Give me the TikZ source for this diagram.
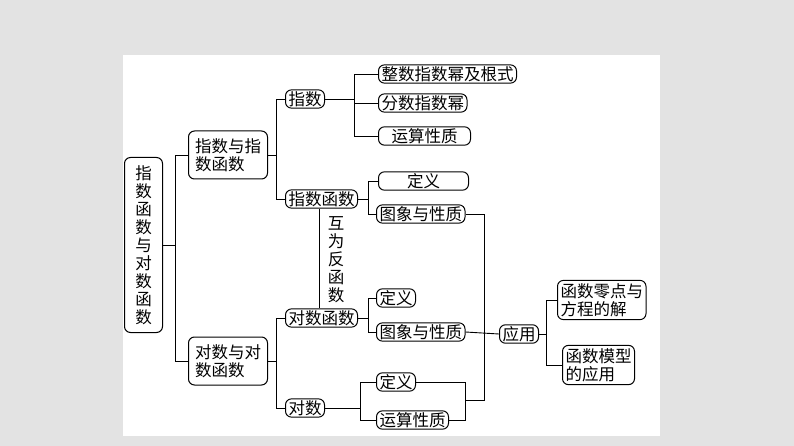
\documentclass[tikz,border=0pt]{standalone}
\usepackage{fontspec}
\setmainfont{Noto Sans CJK SC}
\begin{document}
\begin{tikzpicture}[x=1pt,y=-1pt,
 bx/.style={draw,line width=1pt,rounded corners=6pt,inner xsep=3pt,inner ysep=1.5pt,font=\fontsize{16.5}{18}\selectfont,align=left,anchor=west},
 ln/.style={line width=0.9pt}]
\fill[gray!22] (0,0) rectangle (794,446);
\fill[white] (123,55) rectangle (660,436);
\useasboundingbox (0,0) rectangle (794,446);
\node[bx,align=center,minimum width=38pt,minimum height=175pt] (root) at (124,245) {指\\数\\函\\数\\与\\对\\数\\函\\数};
\node[bx,minimum width=79pt,minimum height=48pt] (zz) at (188,155) {指数与指\\数函数};
\node[bx,minimum width=79pt,minimum height=48pt] (dd) at (188,361) {对数与对\\数函数};
\node[bx] (zs) at (285,99) {指数};
\node[bx] (zf) at (285,199) {指数函数};
\node[bx] (df) at (285,318) {对数函数};
\node[bx] (ds) at (285,408) {对数};
\node[bx] (a1) at (378,74) {整数指数幂及根式};
\node[bx] (a2) at (378,103) {分数指数幂};
\node[bx,minimum width=92pt,align=center] (a3) at (378,136) {运算性质};
\node[bx,minimum width=90pt,align=center] (b1) at (378,181) {定义};
\node[bx] (b2) at (376,214) {图象与性质};
\node[bx] (c1) at (376,298) {定义};
\node[bx] (c2) at (376,332) {图象与性质};
\node[bx] (d1) at (376,382) {定义};
\node[bx] (d2) at (376,420) {运算性质};
\node[bx] (yy) at (499,334) {应用};
\node[bx,inner ysep=3pt] (e1) at (557,300) {函数零点与\\方程的解};
\node[bx,inner ysep=3pt] (e2) at (562,365) {函数模型\\的应用};
\node[font=\fontsize{16.5}{18}\selectfont,align=center,inner sep=0pt] (hw) at (336,260) {互\\为\\反\\函\\数};
\foreach \p/\c/\d in {root/zz/12,root/dd/12,zz/zs/8,zz/zf/8,dd/df/8,dd/ds/8,zs/a1/29,zs/a2/29,zs/a3/29,zf/b1/10,zf/b2/10,df/c1/10,df/c2/10,ds/d1/35,ds/d2/35,yy/e1/7,yy/e2/7}
  \draw[ln] (\p.east) -- ++(\d,0) |- (\c.west);
\coordinate (t) at (319,0);
\draw[ln] (t |- zf.south) -- (t |- df.north);
\coordinate (v) at (484,0);
\coordinate (w) at (465,0);
\draw[ln] (b2.east) -- (v |- b2.east) -- (v |- 0,400) -- (w |- 0,400);
\draw[ln] (d1.east) -- (w |- d1.east) -- (w |- d2.east) -- (d2.east);
\draw[ln] (c2.east) -- (yy.west);
\end{tikzpicture}
\end{document}
